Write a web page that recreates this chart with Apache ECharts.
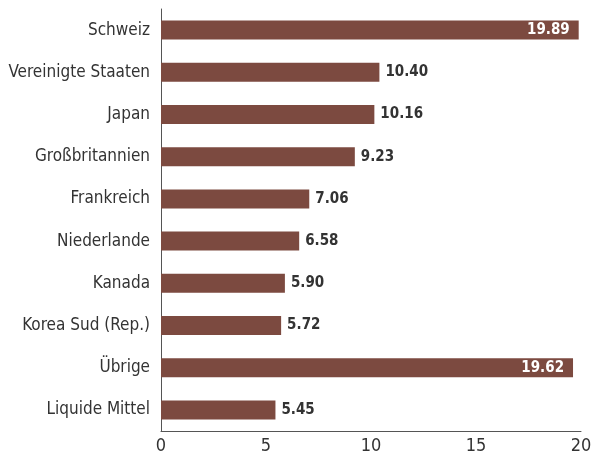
<!DOCTYPE html>
<html>
<head>
<meta charset="utf-8">
<script src="https://cdn.jsdelivr.net/npm/echarts@6/dist/echarts.min.js"></script>
<style>
  html, body { margin: 0; padding: 0; background: #fff; }
  #chart { width: 605px; height: 461px; }
</style>
</head>
<body>
<div id="chart"></div>
<script>
const categories = [
  "Schweiz",
  "Vereinigte Staaten",
  "Japan",
  "Großbritannien",
  "Frankreich",
  "Niederlande",
  "Kanada",
  "Korea Sud (Rep.)",
  "Übrige",
  "Liquide Mittel",
];
const values = [19.89, 10.4, 10.16, 9.23, 7.06, 6.58, 5.9, 5.72, 19.62, 5.45];
const xTicks = [0, 5, 10, 15, 20];

const FONT = "'Liberation Sans Narrow', 'DejaVu Sans Condensed', sans-serif";
const BAR = "#7c4a40";

const chart = echarts.init(document.getElementById("chart"));

const data = values.map((v) => {
  const inside = v > 15;
  return {
    value: v,
    label: {
      position: inside ? "insideRight" : "right",
      color: inside ? "#ffffff" : "#333333",
      distance: inside ? 9 : 6,
    },
  };
});

const option = {
  animation: false,
  grid: { left: 161, right: 24, top: 9, bottom: 30 },
  xAxis: {
    type: "value",
    min: xTicks[0],
    max: xTicks[xTicks.length - 1],
    interval: 5,
    axisLine: { show: true, lineStyle: { color: "#555555", width: 1 } },
    axisTick: { show: false },
    splitLine: { show: false },
    axisLabel: { color: "#333333", fontSize: 18, fontFamily: FONT, margin: 6 },
  },
  yAxis: {
    type: "category",
    data: categories,
    inverse: true,
    axisLine: { show: true, lineStyle: { color: "#555555", width: 1 } },
    axisTick: { show: false },
    axisLabel: { color: "#333333", fontSize: 17, fontFamily: FONT, margin: 11 },
  },
  series: [
    {
      type: "bar",
      data,
      barWidth: "45%",
      itemStyle: { color: BAR },
      label: {
        show: true,
        fontSize: 15,
        fontWeight: "bold",
        fontFamily: FONT,
        formatter: (p) => p.value.toFixed(2),
      },
    },
  ],
};

chart.setOption(option);
</script>
</body>
</html>
